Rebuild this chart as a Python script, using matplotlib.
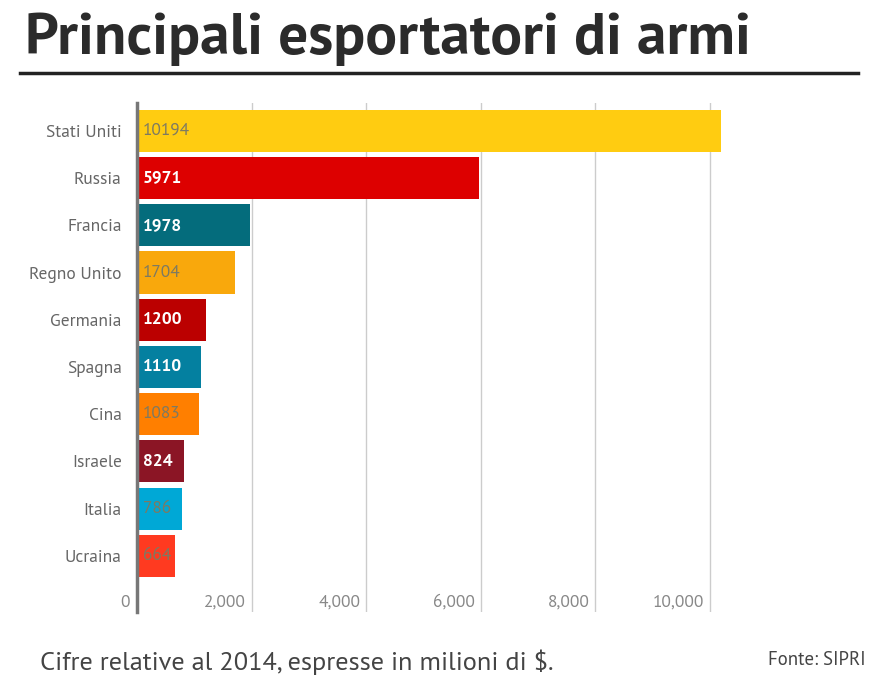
import matplotlib
matplotlib.use("Agg")
import matplotlib.pyplot as plt

# data
paesi = ['Stati Uniti', 'Russia', 'Francia', 'Regno Unito', 'Germania',
         'Spagna', 'Cina', 'Israele', 'Italia', 'Ucraina']
valori = [10194, 5971, 1978, 1704, 1200, 1110, 1083, 824, 786, 664]
colori = ['#FFCC11', '#DD0000', '#046C7C', '#F9A80C', '#BB0000',
          '#0480A0', '#FF7F00', '#8B1525', '#00A8D6', '#FF3A20']
etichetta_chiara = [False, True, True, False, True, True, False, True, False, False]
xticks = [0, 2000, 4000, 6000, 8000, 10000]

ptsans = ['PT Sans', 'DejaVu Sans']

fig = plt.figure(figsize=(8.86, 6.79), dpi=100)
ax = fig.add_axes([137 / 886, 1 - 612 / 679, 630 / 886, 509 / 679])

y = list(range(len(paesi)))
ax.barh(y, valori, height=0.89, color=colori, zorder=3)
ax.set_ylim(10.19, -0.59)
ax.set_xlim(0, 11000)

# grid lines
for t in xticks[1:]:
    ax.axvline(t, color='#cccccc', lw=1, zorder=1)

# value labels inside bars
for i, v in enumerate(valori):
    if etichetta_chiara[i]:
        ax.text(100, i, str(v), va='center', ha='left', color='white',
                fontsize=12.5, fontweight='bold', family=ptsans, zorder=4)
    else:
        ax.text(100, i, str(v), va='center', ha='left', color='#7d7a62',
                fontsize=12.5, family=ptsans, zorder=4)

# x tick labels inside the plot area
for t in xticks:
    lab = '{:,}'.format(t)
    ax.text(t - 100 if t else -120, 10.0, lab, ha='right', va='center',
            color='#888888', fontsize=12.5, family=ptsans)

ax.set_yticks(y)
ax.set_yticklabels(paesi, family=ptsans, fontsize=12.5, color='#666666')
ax.tick_params(axis='y', length=0, pad=11)
ax.set_xticks([])
for s in ['top', 'right', 'bottom']:
    ax.spines[s].set_visible(False)
ax.spines['left'].set_color('#777777')
ax.spines['left'].set_linewidth(2.5)
ax.spines['left'].set_zorder(5)

# title and rule
fig.text(25 / 886, 1 - 39 / 679, 'Principali esportatori di armi', ha='left', va='center',
         fontsize=42.7, fontweight='bold', family=ptsans, color='#2b2b2b')
fig.add_artist(plt.Line2D([20 / 886, 858 / 886], [1 - 73 / 679, 1 - 73 / 679],
                          color='#222222', lw=2.5))

# footer
fig.text(40 / 886, 1 - 662 / 679, 'Cifre relative al 2014, espresse in milioni di $.',
         ha='left', va='center', fontsize=19, color='#444444', family=ptsans)
fig.text(866 / 886, 1 - 660 / 679, 'Fonte: SIPRI', ha='right', va='center',
         fontsize=13.5, color='#444444', family=ptsans)

fig.savefig('out.png', dpi=100)
